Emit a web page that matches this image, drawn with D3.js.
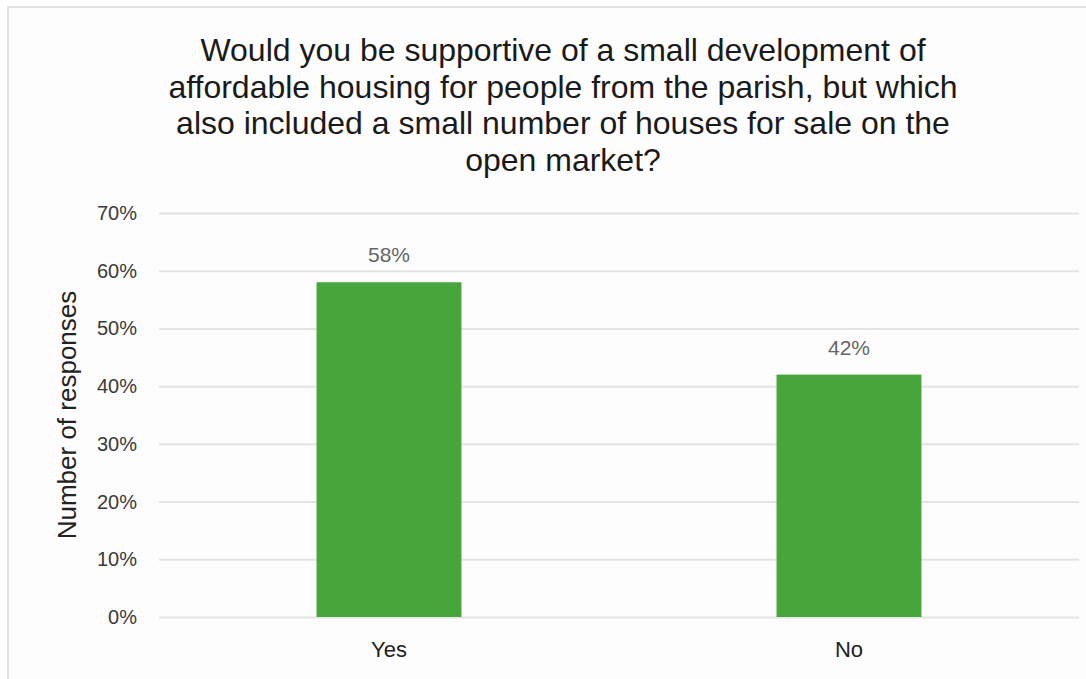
<!DOCTYPE html>
<html>
<head>
<meta charset="utf-8">
<script src="https://cdn.jsdelivr.net/npm/d3@7"></script>
<style>
  body { margin: 0; background: #fff; }
  svg { display: block; font-family: "Liberation Sans", Arial, sans-serif; }
  .grid line { stroke: #e3e3e3; stroke-width: 2; }
  .grid .domain { display: none; }
</style>
</head>
<body>
<svg width="1086" height="679"></svg>
<script>
const titleLines = [
  "Would you be supportive of a small development of",
  "affordable housing for people from the parish, but which",
  "also included a small number of houses for sale on the",
  "open market?"
];
const categories = ["Yes", "No"];
const values = [0.58, 0.42];
const yTicks = [0, 0.1, 0.2, 0.3, 0.4, 0.5, 0.6, 0.7];
const yTitle = "Number of responses";

const margin = {top: 213, right: 7, bottom: 62, left: 159};

const svg = d3.select("svg");
const width = +svg.attr("width") - margin.left - margin.right;
const height = +svg.attr("height") - margin.top - margin.bottom;

// card background
svg.append("rect")
  .attr("x", 8).attr("y", 7)
  .attr("width", 1100).attr("height", 700)
  .attr("fill", "#fdfdfd")
  .attr("stroke", "#e2e2e2")
  .attr("stroke-width", 2);

const vis = svg.append("g")
  .attr("transform", `translate(${margin.left},${margin.top})`);

const x = d3.scaleBand()
  .domain(categories)
  .range([0, width])
  .paddingInner(0.685)
  .paddingOuter(0.3425);

const y = d3.scaleLinear()
  .domain([0, 0.7])
  .range([height, 0]);

// gridlines
vis.append("g")
  .attr("class", "grid")
  .call(d3.axisLeft(y).tickValues(yTicks).tickSize(-width).tickFormat(""));

// y tick labels
vis.append("g")
  .selectAll("text")
  .data(yTicks)
  .join("text")
  .attr("x", -22)
  .attr("y", d => y(d))
  .attr("dy", "0.35em")
  .attr("text-anchor", "end")
  .attr("font-size", 20)
  .attr("fill", "#3a3a3a")
  .text(d3.format(".0%"));

// bars
vis.append("g")
  .selectAll("rect")
  .data(values)
  .join("rect")
  .attr("x", (d, i) => x(categories[i]))
  .attr("y", d => y(d))
  .attr("width", x.bandwidth())
  .attr("height", d => height - y(d))
  .attr("fill", "#46a63c");

// value labels
vis.append("g")
  .selectAll("text")
  .data(values)
  .join("text")
  .attr("x", (d, i) => x(categories[i]) + x.bandwidth() / 2)
  .attr("y", d => y(d) - 20)
  .attr("text-anchor", "middle")
  .attr("font-size", 21)
  .attr("fill", "#666")
  .text(d3.format(".0%"));

// category labels
vis.append("g")
  .selectAll("text")
  .data(categories)
  .join("text")
  .attr("x", d => x(d) + x.bandwidth() / 2)
  .attr("y", height + 40)
  .attr("text-anchor", "middle")
  .attr("font-size", 22)
  .attr("fill", "#222")
  .text(d => d);

// y axis title
svg.append("text")
  .attr("transform", `translate(76,${margin.top + height / 2}) rotate(-90)`)
  .attr("text-anchor", "middle")
  .attr("font-size", 26)
  .attr("fill", "#222")
  .text(yTitle);

// chart title
svg.append("g")
  .selectAll("text")
  .data(titleLines)
  .join("text")
  .attr("x", 563)
  .attr("y", (d, i) => 61 + i * 36.7)
  .attr("text-anchor", "middle")
  .attr("font-size", 32)
  .attr("fill", "#1a1a1a")
  .text(d => d);
</script>
</body>
</html>
